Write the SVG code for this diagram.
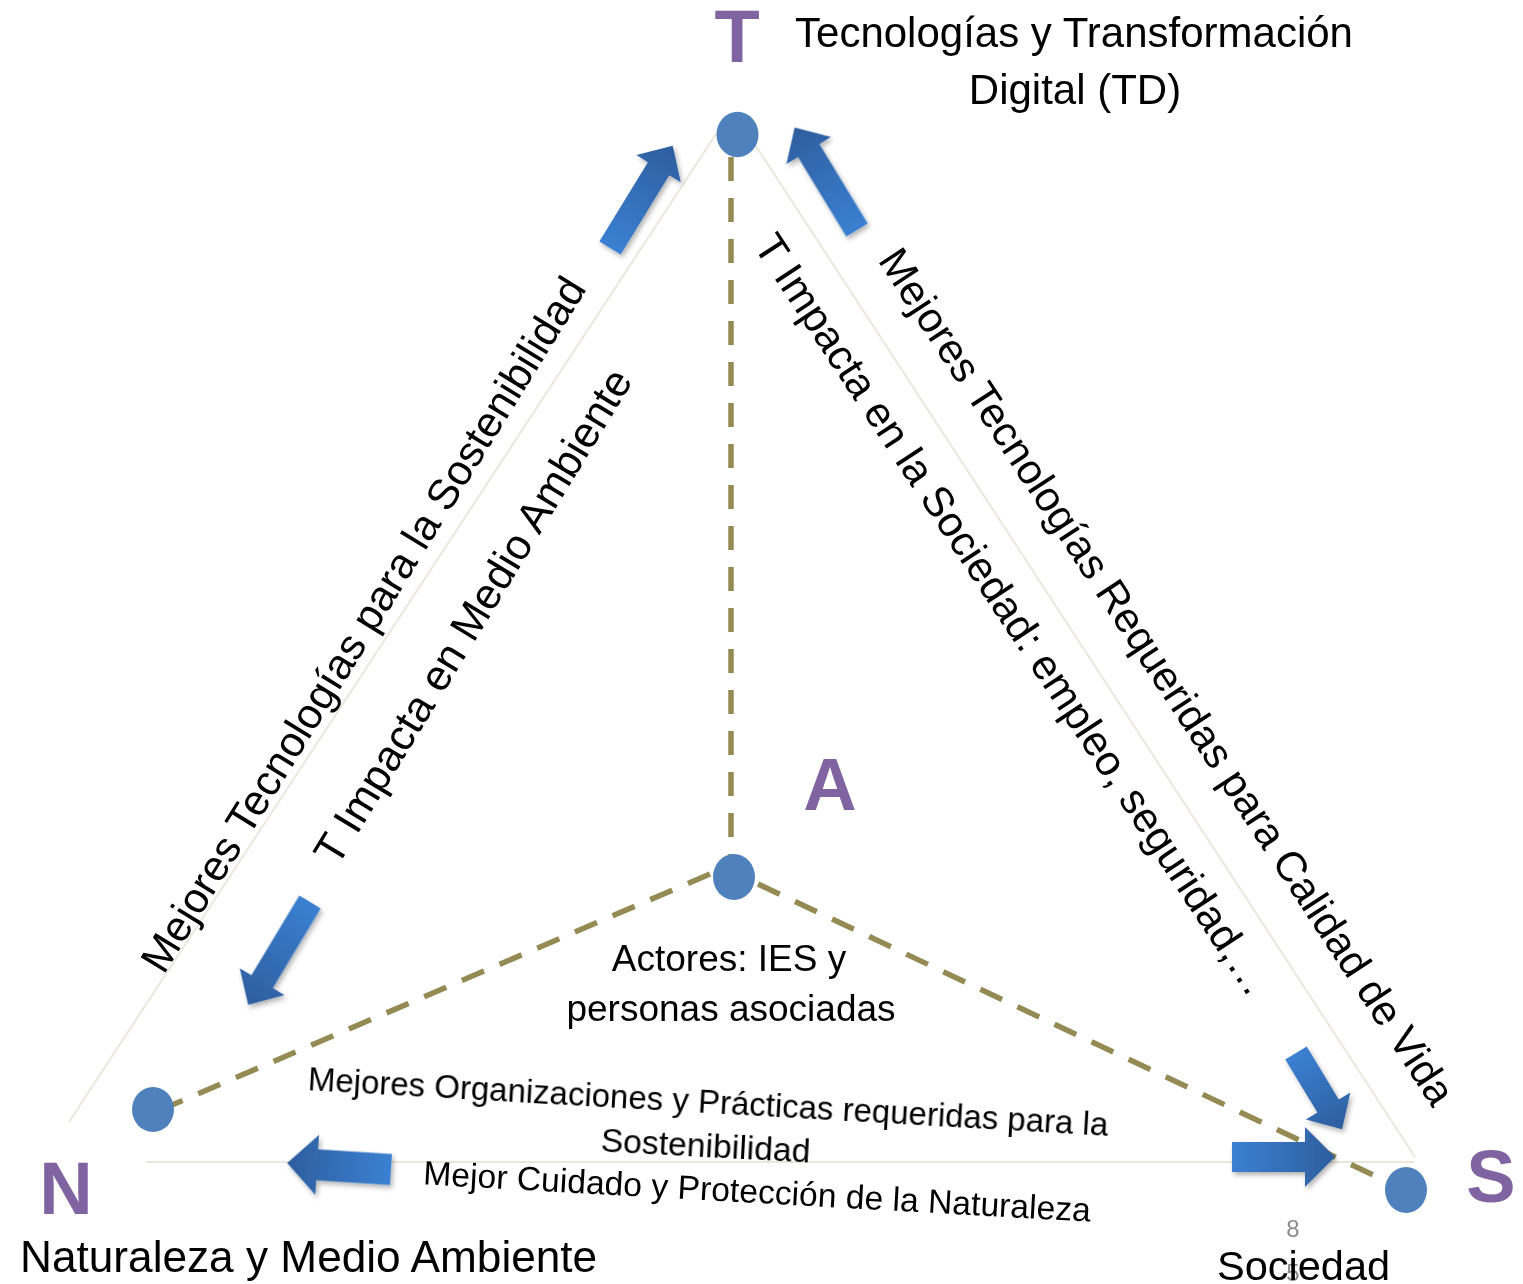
<svg xmlns="http://www.w3.org/2000/svg" width="1523" height="1284" viewBox="0 0 1523 1284">
<style>
  .bg { fill: #ffffff; }
  .dot { fill: #4F81BD; }
  .big { font-family: "Liberation Sans", Arial, sans-serif; font-weight: bold; font-size: 74px; fill: #8064A2; text-anchor: middle; }
  .lbl { font-family: "Liberation Sans", Arial, sans-serif; fill: #000000; }
  .edge { stroke: #EAE8DA; stroke-width: 2; fill: none; }
  .dash { stroke: #948A54; stroke-width: 5.5; stroke-dasharray: 24 17; fill: none; }
  .num { font-family: "Liberation Sans", Arial, sans-serif; font-size: 24px; fill: #8C8C8C; text-anchor: middle; }
</style>
<defs>
  <linearGradient id="arrGrad" x1="0" y1="0" x2="1" y2="0">
    <stop offset="0" stop-color="#3B80D2"/>
    <stop offset="1" stop-color="#2D5E9E"/>
  </linearGradient>
  <filter id="shadow" x="-20%" y="-20%" width="140%" height="140%">
    <feDropShadow dx="2" dy="3" stdDeviation="2.5" flood-color="#000000" flood-opacity="0.3"/>
  </filter>
</defs>
<rect class="bg" x="0" y="0" width="1523" height="1284"/>

<g id="connectors">
  <!-- light triangle -->
  <line class="edge" x1="69" y1="1122" x2="718" y2="131"/>
  <line class="edge" x1="750" y1="137" x2="1415" y2="1157"/>
  <line class="edge" x1="146" y1="1162" x2="1415" y2="1162"/>
  <!-- dashed connectors from A -->
  <line class="dash" x1="731" y1="157" x2="731" y2="856"/>
  <line class="dash" x1="710" y1="874" x2="172" y2="1105"/>
  <line class="dash" x1="758" y1="884" x2="1388" y2="1182"/>
  <!-- block arrows -->
  <g id="arrows" filter="url(#shadow)" fill="url(#arrGrad)">
    <polygon transform="translate(610,248) rotate(-58.5)" points="0,-12.5 93,-12.5 93,-26 120,0 93,26 93,12.5 0,12.5"/>
    <polygon transform="translate(857,230) rotate(-121.3)" points="0,-12.5 93,-12.5 93,-26 120,0 93,26 93,12.5 0,12.5"/>
    <polygon transform="translate(310,902) rotate(121)" points="0,-12.5 93,-12.5 93,-26 120,0 93,26 93,12.5 0,12.5"/>
    <polygon transform="translate(1296,1053) rotate(58.8)" points="0,-12.5 62,-12.5 62,-26 89,0 62,26 62,12.5 0,12.5"/>
    <polygon transform="translate(1232,1157)" points="0,-15 73,-15 73,-30 103,0 73,30 73,15 0,15"/>
    <polygon transform="translate(391,1169.5) rotate(183.6)" points="0,-15.5 74,-15.5 74,-30 104,0 74,30 74,15.5 0,15.5"/>
  </g>
  <!-- edge labels -->
  <g id="edge-labels" class="lbl">
    <text font-size="42.5" text-anchor="middle" transform="translate(375.5,632) rotate(-58.35)">Mejores Tecnologías para la Sostenibilidad</text>
    <text font-size="43" text-anchor="middle" transform="translate(485.5,624) rotate(-58.7)">T Impacta en Medio Ambiente</text>
    <text font-size="42.2" text-anchor="middle" transform="translate(1001,622.5) rotate(56.6)">T Impacta en la Sociedad: empleo, seguridad,…</text>
    <text font-size="42" text-anchor="middle" transform="translate(1155,684.5) rotate(56.77)">Mejores Tecnologías Requeridas para Calidad de Vida</text>
    <text font-size="33" text-anchor="middle" transform="translate(707.5,1113) rotate(3.27)">Mejores Organizaciones y Prácticas requeridas para la</text>
    <text font-size="33.7" text-anchor="middle" transform="translate(705,1157) rotate(3)">Sostenibilidad</text>
    <text font-size="33.7" text-anchor="middle" transform="translate(756.5,1203) rotate(3.2)">Mejor Cuidado y Protección de la Naturaleza</text>
  </g>
</g>

<g id="node-T">
  <ellipse class="dot" cx="737.5" cy="134.5" rx="21" ry="22.8"/>
  <text class="big" x="737" y="62">T</text>
  <text class="lbl" font-size="42" text-anchor="middle" x="1074" y="47">Tecnologías y Transformación</text>
  <text class="lbl" font-size="42" text-anchor="middle" x="1075" y="104">Digital (TD)</text>
</g>

<g id="node-A">
  <ellipse class="dot" cx="734" cy="877" rx="21" ry="23"/>
  <text class="big" x="830" y="810">A</text>
  <text class="lbl" font-size="37" text-anchor="middle" x="729" y="971">Actores: IES y</text>
  <text class="lbl" font-size="37" text-anchor="middle" x="731" y="1021">personas asociadas</text>
</g>

<g id="node-N">
  <ellipse class="dot" cx="153" cy="1109.5" rx="21" ry="22.5"/>
  <text class="big" x="66" y="1214">N</text>
  <text class="lbl" font-size="44.2" x="20" y="1272">Naturaleza y Medio Ambiente</text>
</g>

<g id="node-S">
  <ellipse class="dot" cx="1406" cy="1190" rx="21" ry="23"/>
  <text class="big" x="1491" y="1202">S</text>
  <text class="num" x="1293" y="1237">8</text>
  <text class="num" x="1293" y="1281">5</text>
  <text class="lbl" font-size="41.5" x="1217" y="1280">Sociedad</text>
</g>
</svg>
